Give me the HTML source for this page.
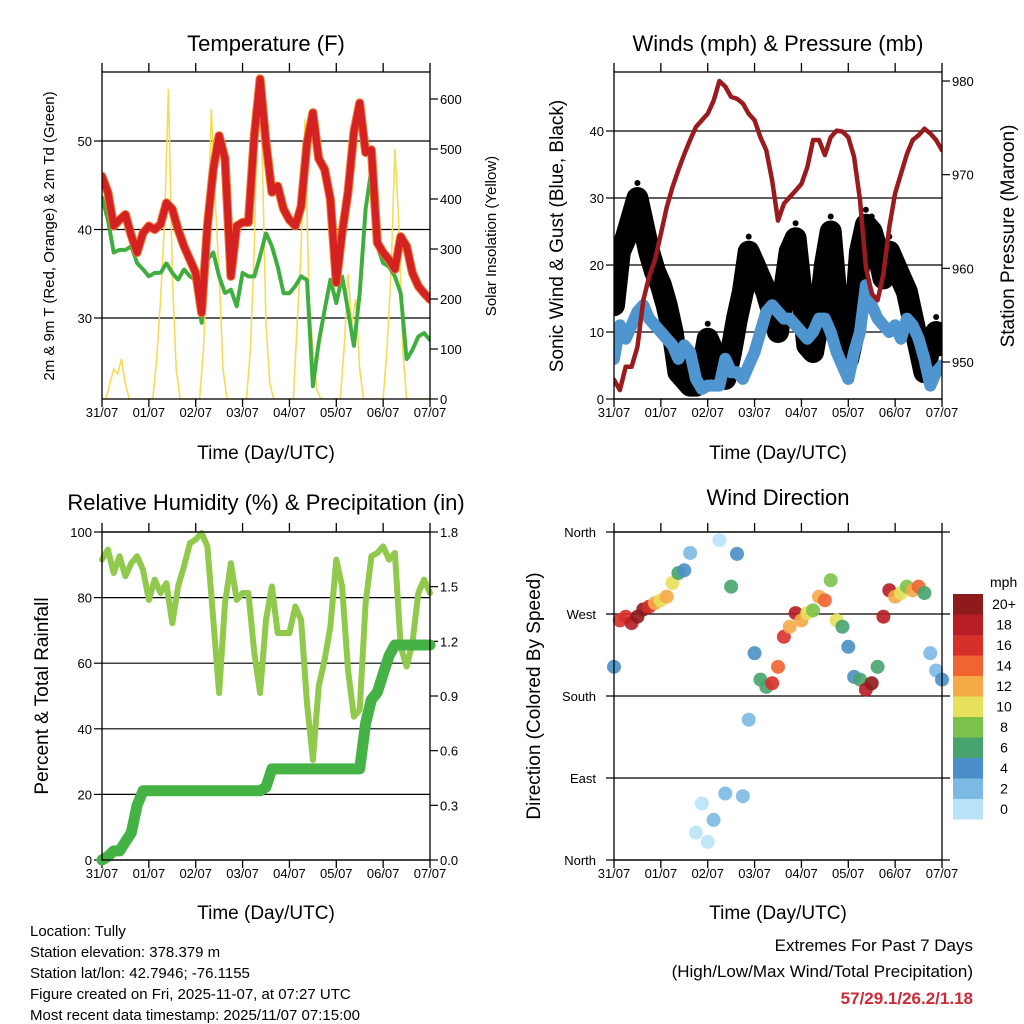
<!DOCTYPE html>
<html><head><meta charset="utf-8"><style>
body{margin:0;background:#fff;}
svg{display:block;font-family:"Liberation Sans",sans-serif;}
</style></head><body>
<svg id="c" width="1024" height="1024" viewBox="0 0 1024 1024" xmlns="http://www.w3.org/2000/svg">
<g id="g"></g>
<text x="266" y="51" font-size="22" text-anchor="middle">Temperature (F)</text>
<text x="778" y="51" font-size="22" text-anchor="middle">Winds (mph) &amp; Pressure (mb)</text>
<text x="266" y="510" font-size="22" text-anchor="middle">Relative Humidity (%) &amp; Precipitation (in)</text>
<text x="778" y="505" font-size="22" text-anchor="middle">Wind Direction</text>
<text x="266" y="459" font-size="19" text-anchor="middle">Time (Day/UTC)</text>
<text x="778" y="459" font-size="19" text-anchor="middle">Time (Day/UTC)</text>
<text x="266" y="919" font-size="19" text-anchor="middle">Time (Day/UTC)</text>
<text x="778" y="919" font-size="19" text-anchor="middle">Time (Day/UTC)</text>
<text transform="translate(54,236) rotate(-90)" font-size="15" text-anchor="middle">2m &amp; 9m T (Red, Orange) &amp; 2m Td (Green)</text>
<text transform="translate(496,236) rotate(-90)" font-size="15" text-anchor="middle">Solar Insolation (Yellow)</text>
<text transform="translate(563,236) rotate(-90)" font-size="19" text-anchor="middle">Sonic Wind &amp; Gust (Blue, Black)</text>
<text transform="translate(1014,236) rotate(-90)" font-size="19" text-anchor="middle">Station Pressure (Maroon)</text>
<text transform="translate(48,696) rotate(-90)" font-size="19" text-anchor="middle">Percent &amp; Total Rainfall</text>
<text transform="translate(540,696) rotate(-90)" font-size="19" text-anchor="middle">Direction (Colored By Speed)</text>
<g font-size="15">
<text x="30" y="936">Location: Tully</text>
<text x="30" y="957">Station elevation: 378.379 m</text>
<text x="30" y="978">Station lat/lon: 42.7946; -76.1155</text>
<text x="30" y="999">Figure created on Fri, 2025-11-07, at 07:27 UTC</text>
<text x="30" y="1020">Most recent data timestamp: 2025/11/07 07:15:00</text>
</g>
<g text-anchor="end">
<text x="973" y="951" font-size="17">Extremes For Past 7 Days</text>
<text x="973" y="977" font-size="17">(High/Low/Max Wind/Total Precipitation)</text>
<text x="973" y="1004" font-size="17" font-weight="bold" fill="#cc2a36">57/29.1/26.2/1.18</text>
</g>
</svg>
<script>
const dayLabels=["31/07","01/07","02/07","03/07","04/07","05/07","06/07","07/07"];
const hours3=[];for(let i=0;i<=56;i++)hours3.push(i*3);
const hours2=[];for(let i=0;i<=84;i++)hours2.push(i*2);
const tempT=[46,44.2,40.4,41.1,41.7,39.3,37.4,39.6,40.4,40,40.6,43,42.3,40,38.1,36.6,35.1,30.6,40.4,46.8,50.6,48,34.7,40.4,40.8,40.8,50.6,57,49.8,44.2,44.9,42.3,41.1,40.4,42.6,49.8,53.2,48,46.8,43.4,34,39.6,44.2,51,54.3,48.7,49,38.5,37.4,36.6,35.5,39.2,38.1,35.1,33.6,32.8,32.1];
const tempTd=[43.6,41.1,37.4,37.7,37.7,38.1,36.2,35.5,34.7,35.1,35.1,36.2,35.1,34.3,35.5,34.7,34.3,29.4,36.6,37.4,34.7,32.8,33.2,31.3,35.1,34.7,34.7,37,39.6,38.1,35.8,32.8,32.8,33.6,34.7,34.3,22.3,27.2,30.9,34.3,31.7,34.7,30.9,26.8,32.8,42.3,46.8,38.1,36.2,35.8,34.7,32.8,25.3,26.4,27.9,28.3,27.5];
const solar=[0,0,30,60,50,80,30,0,0,0,0,0,0,0,80,200,350,620,250,60,0,0,0,0,0,0,100,300,580,400,250,60,0,0,0,0,0,0,100,300,650,500,150,30,0,0,0,0,0,0,150,300,560,200,100,20,0,0,0,0,0,0,100,250,150,200,60,0,0,0,0,0,0,100,250,500,350,100,0,0,0,0,0,0,0];
const pressure=[948.1,947,949.5,949.5,951.6,956.6,959.1,960.9,963.7,966.5,968.7,970.5,972.2,973.7,975.1,975.8,976.5,977.9,980,979.4,978.3,978.1,977.6,976.5,975.8,974,972.6,969.4,965.1,966.9,967.6,968.3,969,970.8,973.7,973.7,972.1,974,974.7,974.6,974,971.9,967.3,960.1,957.3,956.6,959.4,964.4,968,970.1,972.2,973.7,974.2,974.9,974.4,973.7,972.6];
const windSpd=[6,11,9,11,13,14,12,11,10,9,8,6,8,7,3,1.5,2,2,2,6,4,4,3,5,7,10,13,14,13,12,12,11,10,9,10,12,12,10,7,5,3,7,10,17,14,12,11,10,11,9,12,11,9,6,2,4,5];
const gust=[14,22,24,27,30,26,22,19,17,14,10,4,3,2,2,4,9,7,4,3,7,12,16,22,20,18,16,13,10,16,22,24,16,8,7,12,20,25,15,10,6,10,22,26,25,22,18,22,20,18,16,12,8,4,8,10,8];
const rh=[91.6,94.6,87.5,92.6,86.5,90.5,92.6,88.5,79.3,85.5,81.4,84.4,72.2,83.4,89.5,96.6,97.7,99.7,95.6,73.2,50.9,78.3,90.5,79.3,81.4,81.4,63.1,50.9,73.2,83.4,69.2,69.2,69.2,77.3,73.2,47.8,30.5,52.9,61,71.2,91.6,83.4,58,43.7,45.8,78.3,92.6,93.6,95.6,91.6,93.6,65.1,59,66.1,81.4,85.5,81.4];
const precip=[0,0.02,0.05,0.05,0.1,0.15,0.3,0.38,0.38,0.38,0.38,0.38,0.38,0.38,0.38,0.38,0.38,0.38,0.38,0.38,0.38,0.38,0.38,0.38,0.38,0.38,0.38,0.38,0.4,0.5,0.5,0.5,0.5,0.5,0.5,0.5,0.5,0.5,0.5,0.5,0.5,0.5,0.5,0.5,0.5,0.75,0.88,0.92,1.02,1.12,1.18,1.18,1.18,1.18,1.18,1.18,1.18];
const dirDeg=[212,263,267,260,267,275,278,282,285,289,304,315,318,337,30,62,20,44,351,73,300,336,70,154,227,198,190,194,212,245,256,271,263,271,274,289,285,307,263,256,234,201,198,187,194,212,267,296,289,293,300,296,300,293,227,208,198];
const dirSpd=[4,16,16,18,20,20,16,12,10,12,10,7,4,3,1,1,1,2,1,3,6,4,3,2,4,6,7,16,14,16,12,18,13,10,9,13,14,8,10,6,4,5,7,18,20,7,18,18,12,10,8,12,14,6,2,3,4];
const cbLabels=["20+","18","16","14","12","10","8","6","4","2","0"];
const cbColors=["#8e1a1c","#b81c24","#d7302a","#ef6430","#f6a947","#e6e05b","#7cc24a","#47a46e","#4a8fc7","#7cb9e5","#b8e3f8"];

const NS="http://www.w3.org/2000/svg";
const G=document.getElementById('g');
function el(t,a,p){const e=document.createElementNS(NS,t);for(const k in a)e.setAttribute(k,a[k]);(p||G).appendChild(e);return e;}
function lin(d0,d1,r0,r1){return v=>r0+(v-d0)/(d1-d0)*(r1-r0);}

function frame(x0,x1,y0,y1,name){
  const xs=lin(0,168,x0,x1);
  dayLabels.forEach((l,i)=>{const x=xs(i*24);
    const t=el('line',{x1:x,x2:x,y1:y0-9,y2:y0,stroke:'#000','stroke-width':1.3});
    
    
    const b=el('line',{x1:x,x2:x,y1:y1,y2:y1+8,stroke:'#000','stroke-width':1.3});
    
    
    const tx=el('text',{x:x,y:y1+18,'font-size':13,'text-anchor':'middle'});tx.textContent=l;
    
    
  });
  return xs;
}
function box(x0,x1,y0,y1,name){
  const r=el('rect',{x:x0,y:y0,width:x1-x0,height:y1-y0,fill:'none',stroke:'#000','stroke-width':1.3});
  
  
}
function yAxis(vals,ys,x,side,name,fmt,gx0,gx1,grid){
  vals.forEach(v=>{const y=ys(v);
    if(grid){const gl=el('line',{x1:gx0,x2:gx1,y1:y,y2:y,stroke:'#000','stroke-width':1.2});
      
      }
    const tk=el('line',{x1:x,x2:x+(side<0?-8:8),y1:y,y2:y,stroke:'#000','stroke-width':1.2});
    
    
    const t=el('text',{x:x+(side<0?-10:10),y:y+5,'font-size':13,'text-anchor':side<0?'end':'start'});
    t.textContent=fmt(v);
    
    
  });
}
function path(xs,xv,ys,yv,attrs,name){
  let d='';xv.forEach((h,i)=>{d+=(i?'L':'M')+xs(h).toFixed(1)+','+ys(yv[i]).toFixed(1);});
  const p=el('path',Object.assign({d:d,fill:'none','stroke-linejoin':'round','stroke-linecap':'round'},attrs));
  
  
  return p;
}

// Panel 1 temperature
(function(){
  const x0=102,x1=430,y0=72,y1=399;
  const xs=frame(x0,x1,y0,y1,'temp');
  const ys=lin(30,50,318,141), ss=lin(0,600,399,99);
  yAxis([30,40,50],ys,x0,-1,'temp-y',v=>v,x0,x1,true);
  yAxis([0,100,200,300,400,500,600],ss,x1,1,'solar-y',v=>v,0,0,false);
  const cp=el('clipPath',{id:'cp1'});el('rect',{x:x0,y:y0,width:x1-x0,height:y1-y0},cp);
  const g=el('g',{'clip-path':'url(#cp1)'});
  let d='';hours2.forEach((h,i)=>{d+=(i?'L':'M')+xs(h).toFixed(1)+','+ss(solar[i]).toFixed(1);});
  const sp=el('path',{d:d,fill:'none',stroke:'#f6dc55','stroke-width':1.6},g);
  
  
  g.appendChild(path(xs,hours3,ys,tempTd,{stroke:'#3fae3f','stroke-width':4,'stroke-dasharray':'2.5 1.5'},'dewpoint-line'));
  g.appendChild(path(xs,hours3,ys,tempT,{stroke:'#ef7a30','stroke-width':9},'temp-9m-line'));
  g.appendChild(path(xs,hours3,ys,tempT,{stroke:'#d42222','stroke-width':7},'temp-2m-line'));
  box(x0,x1,y0,y1,'temp');
})();

// Panel 2 winds
(function(){
  const x0=614,x1=942,y0=72,y1=399;
  const xs=frame(x0,x1,y0,y1,'wind');
  const ys=lin(0,40,399,131), ps=lin(950,980,362,81);
  yAxis([0,10,20,30,40],ys,x0,-1,'wind-y',v=>v,x0,x1,true);
  yAxis([950,960,970,980],ps,x1,1,'pressure-y',v=>v,0,0,false);
  const cp=el('clipPath',{id:'cp2'});el('rect',{x:x0,y:y0,width:x1-x0,height:y1-y0},cp);
  const g=el('g',{'clip-path':'url(#cp2)'});
  g.appendChild(path(xs,hours3,ys,gust,{stroke:'#000','stroke-width':22},'gust-cloud'));
  gust.forEach((v,i)=>{const c=el('circle',{cx:xs(hours3[i]),cy:ys(v)-15,r:3,fill:'#000'},g);
    
    });
  g.appendChild(path(xs,hours3,ys,windSpd,{stroke:'#4f96d0','stroke-width':12},'sonic-wind-line'));
  g.appendChild(path(xs,hours3,ps,pressure,{stroke:'#9a1b1e','stroke-width':4.5},'pressure-line'));
  box(x0,x1,y0,y1,'wind');
})();

// Panel 3 RH & precip
(function(){
  const x0=102,x1=430,y0=532,y1=860;
  const xs=frame(x0,x1,y0,y1,'rh');
  const ys=lin(0,100,860,532), qs=lin(0,1.8,860,532);
  yAxis([0,20,40,60,80,100],ys,x0,-1,'rh-y',v=>v,x0,x1,true);
  yAxis([0,0.3,0.6,0.9,1.2,1.5,1.8],qs,x1,1,'precip-y',v=>v.toFixed(1),0,0,false);
  G.appendChild(path(xs,hours3,ys,rh,{stroke:'#90c94c','stroke-width':6},'rh-line'));
  G.appendChild(path(xs,hours3,qs,precip,{stroke:'#45b245','stroke-width':11},'precip-line'));
  box(x0,x1,y0,y1,'rh');
})();

// Panel 4 direction
(function(){
  const x0=614,x1=942,y0=532,y1=860;
  const xs=frame(x0,x1,y0,y1,'dir');
  const ys=lin(0,360,860,532);
  const names=["North","East","South","West","North"];
  [0,90,180,270,360].forEach((v,i)=>{const y=ys(v);
    const gl=el('line',{x1:606,x2:950,y1:y,y2:y,stroke:'#000','stroke-width':1.2});
    
    
    const t=el('text',{x:596,y:y+5,'font-size':13,'text-anchor':'end'});t.textContent=names[i];
    
    });
  dirDeg.forEach((v,i)=>{const ci=Math.max(0,Math.min(10,10-Math.floor(dirSpd[i]/2)));
    const c=el('circle',{cx:xs(hours3[i]),cy:ys(v),r:7,fill:cbColors[ci],opacity:0.9});
    
    });
  box(x0,x1,y0,y1,'dir');
  const h=el('text',{x:990,y:587,'font-size':14});h.textContent='mph';
  
  
  cbLabels.forEach((l,i)=>{const y=594+i*20.5;
    const r=el('rect',{x:953,y:y,width:30,height:20.5,fill:cbColors[i]});
    
    
    const t=el('text',{x:1004,y:y+15,'font-size':14,'text-anchor':'middle'});t.textContent=l;
    
    });
})();
</script>
</body></html>
